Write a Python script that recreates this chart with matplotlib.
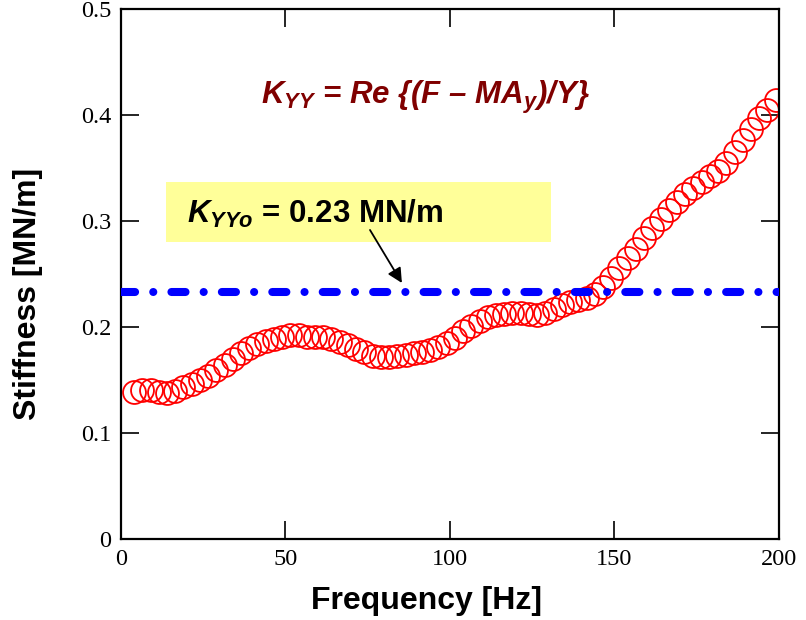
import numpy as np
import matplotlib
matplotlib.use("Agg")
import matplotlib.pyplot as plt

plt.rcParams['mathtext.fontset'] = 'custom'
plt.rcParams['mathtext.rm'] = 'Liberation Sans:bold'
plt.rcParams['mathtext.it'] = 'Liberation Sans:bold:italic'
plt.rcParams['mathtext.bf'] = 'Liberation Sans:bold'

freq = [4, 6.5, 9, 11.5, 14, 16.5, 19, 21.5, 24, 26.5,
        29, 31.5, 34, 36.5, 39, 41.5, 44, 46.5, 49, 51.5,
        54, 56.5, 59, 61.5, 64, 66.5, 69, 71.5, 74, 76.5,
        79, 81.5, 84, 86.5, 89, 91.5, 94, 96.5, 99, 101.5,
        104, 106.5, 109, 111.5, 114, 116.5, 119, 121.5, 124, 126.5,
        129, 131.5, 134, 136.5, 139, 141.5, 144, 146.5, 149, 151.5,
        154, 156.5, 159, 161.5, 164, 166.5, 169, 171.5, 174, 176.5,
        179, 181.5, 184, 186.5, 189, 191.5, 194, 196.5, 199]
kyy = [0.139, 0.141, 0.141, 0.139, 0.138, 0.140, 0.143, 0.146, 0.150, 0.154,
       0.159, 0.164, 0.170, 0.175, 0.180, 0.184, 0.187, 0.189, 0.191, 0.192,
       0.192, 0.191, 0.191, 0.191, 0.189, 0.186, 0.183, 0.179, 0.176, 0.173,
       0.172, 0.172, 0.173, 0.174, 0.175, 0.176, 0.178, 0.181, 0.185, 0.190,
       0.196, 0.201, 0.206, 0.209, 0.211, 0.212, 0.213, 0.213, 0.212, 0.211,
       0.213, 0.217, 0.221, 0.224, 0.225, 0.227, 0.231, 0.238, 0.246, 0.256,
       0.265, 0.274, 0.284, 0.293, 0.302, 0.310, 0.318, 0.325, 0.331, 0.337,
       0.342, 0.347, 0.355, 0.365, 0.376, 0.387, 0.397, 0.405, 0.414]
kyyo = 0.233

fig = plt.figure(figsize=(8.06, 6.2), dpi=100)
ax = fig.add_axes([0.150, 0.1306, 0.8165, 0.855])

ax.plot(freq, kyy, linestyle='none', marker='o', markersize=16.5,
        markerfacecolor='none', markeredgecolor='red', markeredgewidth=1.3, zorder=2)
ax.axhline(kyyo, color='blue', linewidth=5.8, dash_capstyle='round',
           dashes=(1.75, 2.25, 0.01, 2.25), zorder=3)

ax.set_xlim(0, 200)
ax.set_ylim(0, 0.5)
ax.set_xticks([0, 50, 100, 150, 200])
ax.set_yticks([0, 0.1, 0.2, 0.3, 0.4, 0.5])
ax.set_xticklabels(['0', '50', '100', '150', '200'])
ax.set_yticklabels(['0', '0.1', '0.2', '0.3', '0.4', '0.5'])
ax.tick_params(direction='in', length=13, width=1.2, top=True, right=True,
               labelsize=17.5, pad=7)
for lab in ax.get_xticklabels() + ax.get_yticklabels():
    lab.set_family('Liberation Serif')
for sp in ax.spines.values():
    sp.set_linewidth(1.6)

ax.set_xlabel('Frequency [Hz]', family='Liberation Sans', fontweight='bold',
              fontsize=23)
ax.xaxis.set_label_coords(0.465, -0.088)
ax.set_ylabel('Stiffness [MN/m]', family='Liberation Sans', fontweight='bold',
              fontsize=23)
ax.yaxis.set_label_coords(-0.118, 0.462)

ax.text(42.5, 0.410, r'$K_{YY}$ = Re {(F – MA$_y$)/Y}', color='#800000',
        family='Liberation Sans', fontweight='bold', fontstyle='italic',
        fontsize=22.5, va='baseline', ha='left')

box = plt.Rectangle((13.7, 0.280), 117, 0.0565, facecolor='#ffff99',
                    edgecolor='none', zorder=1)
ax.add_patch(box)
ax.text(20, 0.298, r'$K_{YYo}$ = 0.23 MN/m', color='black',
        family='Liberation Sans', fontweight='bold', fontsize=22.5,
        va='baseline', ha='left', zorder=4)

ax.annotate('', xy=(85.4, 0.2415), xytext=(75.7, 0.2915),
            arrowprops=dict(arrowstyle='-|>', color='black', lw=1.3,
                            mutation_scale=22, shrinkA=0, shrinkB=0), zorder=4)

fig.savefig('out.png', dpi=100)
